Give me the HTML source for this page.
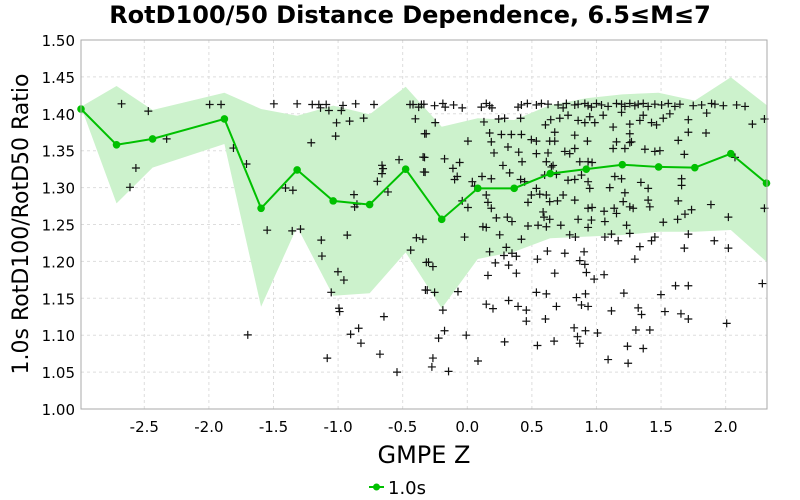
<!DOCTYPE html>
<html><head><meta charset="utf-8"><style>
html,body{margin:0;padding:0;background:#fff;}
svg{display:block;font-family:"DejaVu Sans","Liberation Sans",sans-serif;}
</style></head><body>
<svg id="chart" width="800" height="500" viewBox="0 0 800 500">
<text x="410" y="23" text-anchor="middle" font-size="24" font-weight="bold">RotD100/50 Distance Dependence, 6.5≤M≤7</text>
<text transform="translate(28,224) rotate(-90)" text-anchor="middle" font-size="22">1.0s RotD100/RotD50 Ratio</text>
<text x="424" y="463" text-anchor="middle" font-size="24">GMPE Z</text>
<g>
<line x1="369" y1="487" x2="384" y2="487" stroke="#00c000" stroke-width="2"/>
<circle cx="376.5" cy="487" r="3.5" fill="#00c000"/>
<text x="388" y="494" font-size="18">1.0s</text>
</g>
<g id="grid"></g><g id="band"></g><g id="pts"></g><g id="line"></g><g id="axes"></g>
</svg>
<script>
const xTicks=[-2.5,-2.0,-1.5,-1.0,-0.5,0.0,0.5,1.0,1.5,2.0];
const yTicks=[1.00,1.05,1.10,1.15,1.20,1.25,1.30,1.35,1.40,1.45,1.50];
const binX=[-2.99,-2.715,-2.436,-1.88,-1.596,-1.317,-1.038,-0.756,-0.477,-0.198,0.081,0.363,0.642,0.921,1.20,1.481,1.761,2.04,2.316];
const medianY=[1.4065,1.358,1.366,1.393,1.272,1.324,1.282,1.277,1.325,1.257,1.299,1.299,1.319,1.325,1.331,1.328,1.327,1.346,1.306];
const upperY=[1.4096,1.4377,1.4051,1.4286,1.4065,1.3974,1.411,1.3993,1.4367,1.3825,1.3939,1.3916,1.4119,1.421,1.4264,1.4286,1.4178,1.4495,1.4119];
const lowerY=[1.4096,1.2787,1.327,1.359,1.1386,1.247,1.1535,1.1568,1.2123,1.1364,1.2033,1.2131,1.2313,1.2335,1.2358,1.2402,1.2402,1.2425,1.1996];
const ptX=[-2.676,-2.469,-2.327,-2.565,-2.611,-1.994,-1.906,-1.81,-1.709,-1.699,-1.497,-1.407,-1.35,-1.549,-1.355,-1.291,-1.317,-1.208,-1.2,-1.149,-1.136,-1.092,-1.071,-1.019,-1.012,-0.962,-0.975,-0.911,-0.864,-0.802,-0.722,-1.13,-1.125,-1.084,-1.053,-1.001,-0.955,-0.993,-0.988,-0.929,-0.877,-0.872,-0.854,-0.903,-0.841,-0.823,-0.676,-0.645,-0.544,-0.696,-0.66,-0.652,-0.66,-0.614,-0.528,-0.443,-0.42,-0.376,-0.355,-0.402,-0.33,-0.342,-0.337,-0.438,-0.394,-0.317,-0.324,
-0.336,-0.253,-0.189,-0.171,-0.106,-0.039,0.109,0.147,0.173,0.191,0.393,0.419,0.465,0.535,0.574,0.625,0.703,0.742,0.767,0.832,0.858,0.91,0.935,0.961,1.0,1.039,1.09,1.155,1.194,1.22,1.258,1.297,1.323,1.362,1.40,1.452,1.504,1.556,1.607,1.646,1.749,1.814,1.891,1.917,1.982,2.085,2.15,
-0.248,0.129,0.243,0.289,0.413,0.605,0.646,0.716,0.78,0.858,0.91,0.948,0.987,1.052,1.129,1.194,1.258,1.336,1.362,1.426,1.465,1.517,1.568,1.711,1.853,2.207,2.30,
-0.318,0.005,0.173,0.186,0.264,0.341,0.419,0.496,0.535,0.638,0.677,0.677,0.832,0.93,1.155,1.258,1.633,1.711,1.848,1.271,
-0.331,-0.176,-0.059,-0.111,0.207,0.315,0.398,0.424,0.535,0.625,0.612,0.664,0.755,0.793,0.832,0.871,0.935,0.966,1.129,1.22,1.258,1.375,1.452,1.491,1.68,2.072,
-0.326,-0.098,-0.078,0.039,0.057,0.114,0.186,0.276,0.328,0.413,0.444,0.535,0.599,0.651,0.69,0.78,0.832,0.884,0.935,0.948,1.103,1.142,1.194,1.22,1.344,1.40,1.659,1.659,
-0.039,0.005,0.147,0.16,0.186,0.47,0.496,0.561,0.612,0.638,0.698,0.742,0.832,0.935,0.966,1.059,1.137,1.155,1.207,1.258,1.284,1.40,1.413,1.633,1.685,1.736,1.886,2.30,2.021,
0.121,0.147,0.225,0.251,0.31,0.346,0.419,0.47,0.548,0.612,0.638,0.587,0.594,0.724,0.793,0.837,0.858,0.935,0.961,1.065,1.065,1.116,1.168,1.233,1.258,1.336,1.426,1.452,1.517,1.628,1.711,1.912,-0.021,-0.344,
0.173,0.217,0.284,0.302,0.346,0.38,0.543,0.62,0.755,0.871,0.904,0.91,1.297,1.68,2.021,-0.3,-0.266,
0.16,0.32,0.38,0.677,0.922,0.982,1.059,1.612,1.711,2.284,
-0.31,-0.253,-0.072,0.147,0.199,0.32,0.393,0.457,0.535,0.612,0.69,0.845,0.884,0.935,0.915,1.116,1.212,1.323,1.349,1.499,1.53,1.654,1.711,-0.189,0.457,0.605,2.008,
-0.222,-0.176,-0.008,0.289,0.543,0.672,0.827,0.853,0.871,0.915,1.008,1.24,1.305,1.362,1.413,1.09,1.245,0.083,-0.266,-0.274,-0.145];
const ptY=[1.4135,1.4036,1.366,1.3266,1.3004,1.4126,1.4126,1.3536,1.332,1.1004,1.4135,1.2995,1.2964,1.2423,1.2414,1.2437,1.4135,1.3608,1.4126,1.4126,1.4081,1.4126,1.4045,1.3698,1.3878,1.4113,1.4045,1.3901,1.4135,1.3941,1.4126,1.2288,1.2072,1.0689,1.1581,1.186,1.1747,1.1365,1.132,1.2356,1.2905,1.2739,1.2775,1.1013,1.1094,1.0892,1.0743,1.1252,1.05,1.3085,1.3302,1.3257,1.3189,1.2941,1.3378,1.4126,1.4126,1.409,1.4126,1.3932,1.373,1.3414,1.3212,1.2153,1.232,1.1986,1.1612,
1.413,1.411,1.414,1.409,1.412,1.408,1.409,1.414,1.411,1.408,1.409,1.412,1.414,1.412,1.414,1.413,1.412,1.408,1.414,1.412,1.413,1.414,1.411,1.409,1.414,1.412,1.41,1.414,1.413,1.41,1.414,1.411,1.413,1.414,1.41,1.413,1.412,1.414,1.41,1.413,1.411,1.412,1.414,1.413,1.411,1.412,1.41,
1.388,1.389,1.393,1.394,1.394,1.385,1.392,1.394,1.398,1.391,1.388,1.396,1.388,1.398,1.382,1.402,1.386,1.391,1.398,1.388,1.385,1.394,1.40,1.392,1.401,1.386,1.393,
1.373,1.363,1.374,1.362,1.372,1.372,1.372,1.365,1.363,1.363,1.375,1.363,1.371,1.363,1.362,1.373,1.364,1.375,1.374,1.362,
1.341,1.339,1.334,1.326,1.347,1.355,1.348,1.335,1.346,1.347,1.335,1.33,1.349,1.346,1.353,1.335,1.335,1.334,1.353,1.353,1.361,1.352,1.349,1.35,1.345,1.341,
1.321,1.311,1.315,1.308,1.302,1.315,1.312,1.33,1.32,1.311,1.308,1.299,1.317,1.328,1.318,1.31,1.311,1.317,1.308,1.299,1.30,1.315,1.312,1.293,1.307,1.299,1.312,1.303,
1.282,1.273,1.29,1.28,1.272,1.28,1.29,1.291,1.29,1.281,1.282,1.29,1.283,1.272,1.273,1.268,1.272,1.265,1.281,1.274,1.272,1.283,1.274,1.282,1.264,1.27,1.277,1.272,1.26,
1.247,1.246,1.259,1.236,1.26,1.254,1.23,1.248,1.249,1.247,1.257,1.267,1.26,1.249,1.236,1.233,1.257,1.246,1.256,1.254,1.233,1.237,1.228,1.249,1.238,1.22,1.228,1.233,1.253,1.257,1.237,1.228,1.233,1.23,
1.213,1.198,1.208,1.219,1.211,1.207,1.203,1.214,1.211,1.201,1.213,1.196,1.203,1.218,1.218,1.199,1.193,
1.181,1.195,1.184,1.184,1.185,1.176,1.182,1.167,1.167,1.17,
1.161,1.158,1.159,1.142,1.136,1.147,1.139,1.134,1.158,1.156,1.139,1.151,1.141,1.139,1.156,1.133,1.157,1.137,1.128,1.155,1.132,1.129,1.122,1.134,1.119,1.122,1.116,
1.096,1.106,1.10,1.091,1.086,1.092,1.11,1.098,1.089,1.106,1.103,1.085,1.107,1.082,1.107,1.067,1.062,1.065,1.069,1.057,1.051];

const NS='http://www.w3.org/2000/svg';
const L=81,R=767,T=40,B=409,XMIN=-2.99,XMAX=2.32,YMIN=1.0,YMAX=1.5;
function sx(v){return L+(v-XMIN)/(XMAX-XMIN)*(R-L);}
function sy(v){return B-(v-YMIN)/(YMAX-YMIN)*(B-T);}
function mk(tag,attrs,parent){const e=document.createElementNS(NS,tag);for(const k in attrs)e.setAttribute(k,attrs[k]);parent.appendChild(e);return e;}
const grid=document.getElementById('grid'),axes=document.getElementById('axes');
mk('rect',{x:L,y:T,width:R-L,height:B-T,fill:'#fff'},grid);
xTicks.forEach(t=>{
  const g=mk('line',{x1:sx(t),x2:sx(t),y1:T,y2:B,stroke:'#ddd','stroke-dasharray':'3,3'},grid);
  
  
  const tx=mk('text',{x:sx(t),y:432,'text-anchor':'middle','font-size':'15'},axes);
  tx.textContent=t.toFixed(1);
  
  
});
yTicks.forEach(t=>{
  const g=mk('line',{x1:L,x2:R,y1:sy(t),y2:sy(t),stroke:'#ddd','stroke-dasharray':'3,3'},grid);
  
  
  const tx=mk('text',{x:75,y:sy(t)+6,'text-anchor':'end','font-size':'15'},axes);
  tx.textContent=t.toFixed(2);
  
  
});
const fr=mk('rect',{x:L,y:T,width:R-L,height:B-T,fill:'none',stroke:'#aaa','stroke-width':'1'},axes);


let d='';
binX.forEach((x,i)=>{d+=(i?'L':'M')+sx(x)+','+sy(upperY[i]);});
for(let i=binX.length-1;i>=0;i--)d+='L'+sx(binX[i])+','+sy(lowerY[i]);
const band=mk('path',{d:d+'Z',fill:'#ccf2cc'},document.getElementById('band'));


const pts=document.getElementById('pts');
ptX.forEach((x,i)=>{
  const X=sx(x),Y=sy(ptY[i]);
  const p=mk('path',{d:`M${X-4},${Y}H${X+4}M${X},${Y-4}V${Y+4}`,stroke:'#111','stroke-width':'1.2'},pts);
  
  
});
const lg=document.getElementById('line');
const pl=mk('polyline',{points:binX.map((x,i)=>sx(x)+','+sy(medianY[i])).join(' '),fill:'none',stroke:'#00c000','stroke-width':'2'},lg);


binX.forEach((x,i)=>{
  const c=mk('circle',{cx:sx(x),cy:sy(medianY[i]),r:3.8,fill:'#00c000'},lg);
  
  
});
</script>
</body></html>
